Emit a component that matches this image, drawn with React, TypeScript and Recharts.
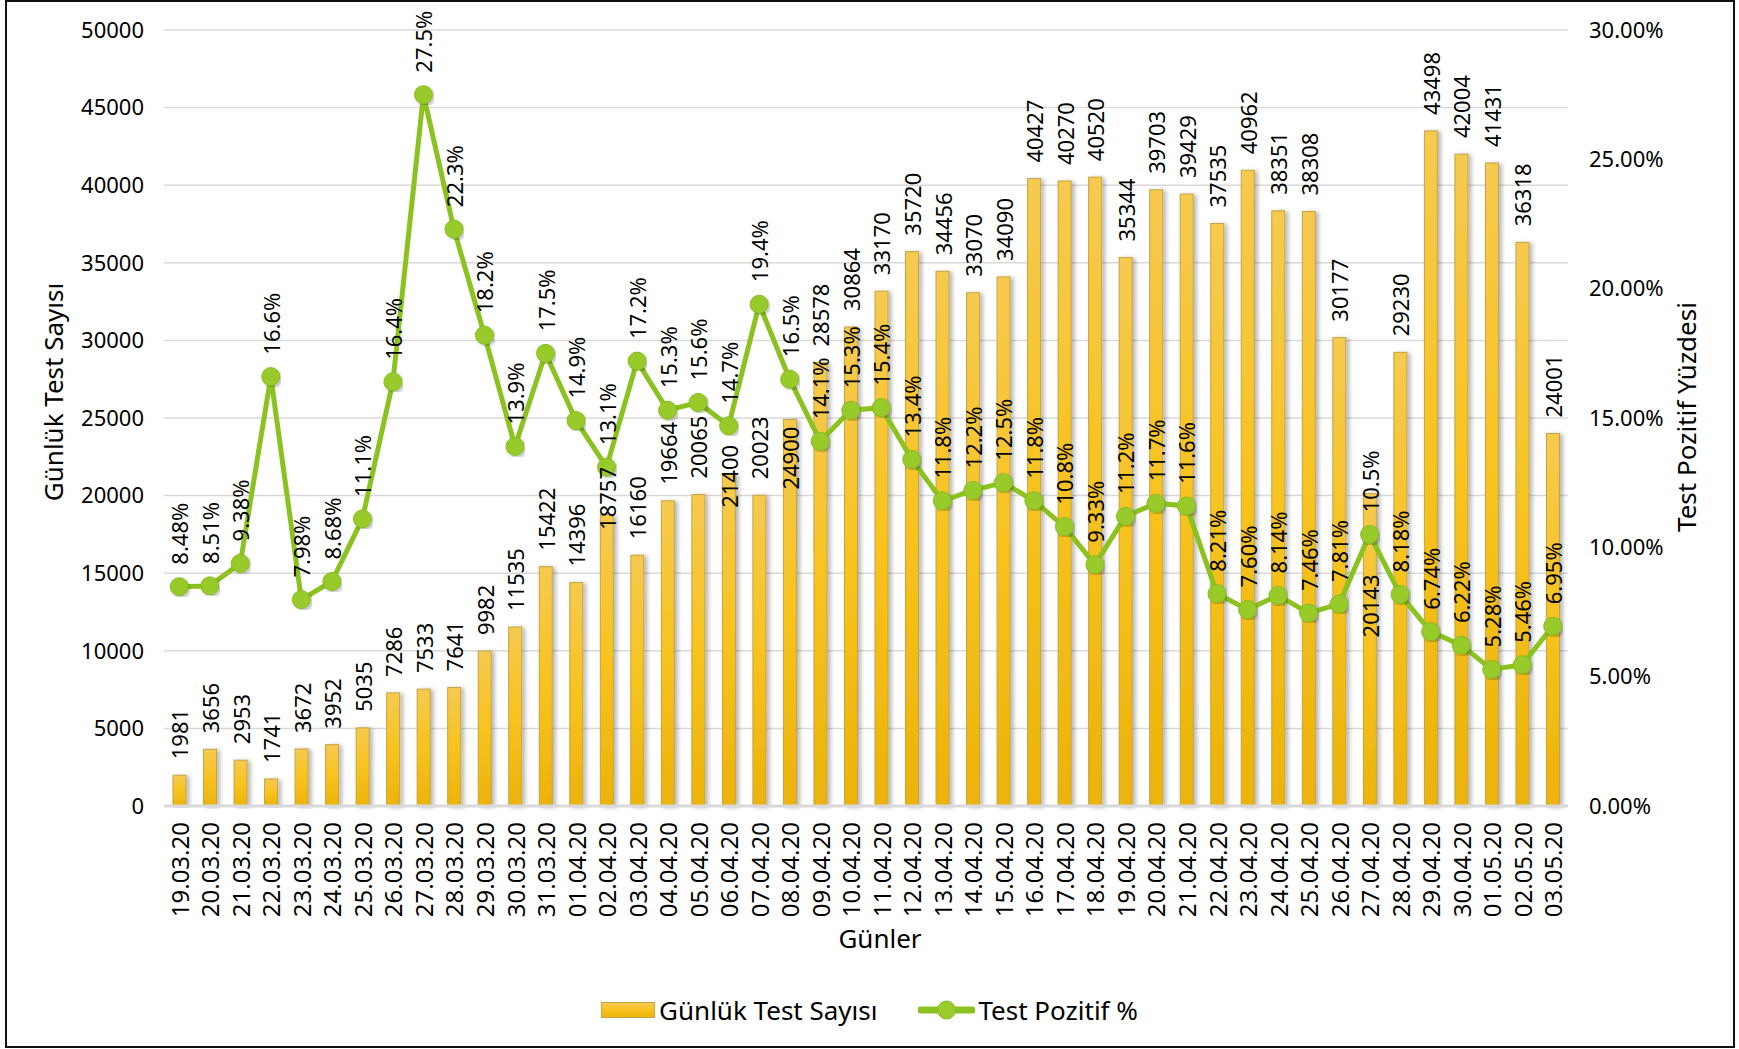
import React from "react";
import {
  Bar,
  CartesianGrid,
  ComposedChart,
  Label,
  LabelList,
  Line,
  XAxis,
  YAxis,
} from "recharts";

const days = [
  "19.03.20", "20.03.20", "21.03.20", "22.03.20", "23.03.20", "24.03.20",
  "25.03.20", "26.03.20", "27.03.20", "28.03.20", "29.03.20", "30.03.20",
  "31.03.20", "01.04.20", "02.04.20", "03.04.20", "04.04.20", "05.04.20",
  "06.04.20", "07.04.20", "08.04.20", "09.04.20", "10.04.20", "11.04.20",
  "12.04.20", "13.04.20", "14.04.20", "15.04.20", "16.04.20", "17.04.20",
  "18.04.20", "19.04.20", "20.04.20", "21.04.20", "22.04.20", "23.04.20",
  "24.04.20", "25.04.20", "26.04.20", "27.04.20", "28.04.20", "29.04.20",
  "30.04.20", "01.05.20", "02.05.20", "03.05.20",
];

const testCounts = [
  1981, 3656, 2953, 1741, 3672, 3952, 5035, 7286, 7533, 7641, 9982, 11535,
  15422, 14396, 18757, 16160, 19664, 20065, 21400, 20023, 24900, 28578, 30864,
  33170, 35720, 34456, 33070, 34090, 40427, 40270, 40520, 35344, 39703, 39429,
  37535, 40962, 38351, 38308, 30177, 20143, 29230, 43498, 42004, 41431, 36318,
  24001,
];

const positiveRates = [
  8.48, 8.51, 9.38, 16.6, 7.98, 8.68, 11.1, 16.4, 27.5, 22.3, 18.2, 13.9, 17.5,
  14.9, 13.1, 17.2, 15.3, 15.6, 14.7, 19.4, 16.5, 14.1, 15.3, 15.4, 13.4, 11.8,
  12.2, 12.5, 11.8, 10.8, 9.33, 11.2, 11.7, 11.6, 8.21, 7.6, 8.14, 7.46, 7.81,
  10.5, 8.18, 6.74, 6.22, 5.28, 5.46, 6.95,
];

const countTicks = [0, 5000, 10000, 15000, 20000, 25000, 30000, 35000, 40000, 45000, 50000];
const rateTicks = [0, 5, 10, 15, 20, 25, 30];

const data = days.map((day, i) => ({
  day,
  tests: testCounts[i],
  rate: positiveRates[i],
}));

// a few bar labels were dragged down in the original to avoid the line labels
const barLabelShift: Record<string, number> = {
  "02.04.20": 31,
  "06.04.20": 50,
  "08.04.20": 86,
  "27.04.20": 160,
};

const FONT = "'Noto Sans', sans-serif";

const DayTick = (props: any) => {
  const { x, y, payload } = props;
  return (
    <text
      x={x}
      y={y}
      transform={`rotate(-90, ${x}, ${y})`}
      textAnchor="end"
      dominantBaseline="central"
      fontSize={24}
      fontFamily={FONT}
      fill="#000"
    >
      {payload.value}
    </text>
  );
};

const BarShape = (props: any) => {
  const { x, y, width, height } = props;
  return (
    <rect
      x={x}
      y={y}
      width={width}
      height={height}
      fill="url(#barFill)"
      stroke="#C4A443"
      strokeWidth={1}
      filter="url(#barShadow)"
    />
  );
};

const BarValueLabel = (props: any) => {
  const { x, y, width, value, index } = props;
  const cx = x + width / 2;
  const ty = y - 16 + (barLabelShift[days[index]] || 0);
  return (
    <text
      x={cx}
      y={ty}
      transform={`rotate(-90, ${cx}, ${ty})`}
      textAnchor="start"
      dominantBaseline="central"
      fontSize={22}
      fontFamily={FONT}
      fill="#000"
    >
      {value}
    </text>
  );
};

const RateLabel = (props: any) => {
  const { x, y, value } = props;
  const ty = y - 22;
  return (
    <text
      x={x}
      y={ty}
      transform={`rotate(-90, ${x}, ${ty})`}
      textAnchor="start"
      dominantBaseline="central"
      fontSize={22}
      fontFamily={FONT}
      fill="#000"
    >
      {Number(value).toPrecision(3)}%
    </text>
  );
};

const axisTitle = (text: string, x: number, y: number, rotate: boolean) => () =>
  (
    <text
      x={x}
      y={y}
      transform={rotate ? `rotate(-90, ${x}, ${y})` : undefined}
      textAnchor="middle"
      dominantBaseline="central"
      fontSize={26}
      fontFamily={FONT}
      fill="#000"
    >
      {text}
    </text>
  );

export default function App() {
  return (
    <div style={{ position: "relative", width: 1739, height: 1049, background: "#fff" }}>
      <style>{`body{margin:0;}`}</style>
      <div
        style={{
          position: "absolute",
          left: 5,
          top: 0,
          width: 1726,
          height: 1044,
          border: "2px solid #111",
          pointerEvents: "none",
        }}
      />
      <ComposedChart
        width={1739}
        height={1049}
        data={data}
        margin={{ top: 30, right: 0, bottom: 93, left: 0 }}
        barSize={13}
      >
        <defs>
          <linearGradient id="barFill" x1="0" y1="0" x2="0" y2="1">
            <stop offset="0%" stopColor="#F6CA50" />
            <stop offset="50%" stopColor="#F7C31E" />
            <stop offset="100%" stopColor="#ECB30A" />
          </linearGradient>
          <filter id="barShadow" x="-50%" y="-5%" width="200%" height="110%">
            <feDropShadow dx="3" dy="1" stdDeviation="2" floodColor="#000" floodOpacity="0.28" />
          </filter>
          <filter id="lineShadow" x="-5%" y="-5%" width="110%" height="110%">
            <feDropShadow dx="2" dy="2" stdDeviation="1.5" floodColor="#000" floodOpacity="0.25" />
          </filter>
        </defs>
        <CartesianGrid yAxisId="left" vertical={false} stroke="#D9D9D9" strokeWidth={1.5} />
        <XAxis
          dataKey="day"
          height={150}
          interval={0}
          tick={<DayTick />}
          tickLine={false}
          tickSize={0}
          tickMargin={16}
          axisLine={{ stroke: "#D9D9D9", strokeWidth: 3 }}
        >
          <Label content={axisTitle("Günler", 880, 938, false)} />
        </XAxis>
        <YAxis
          yAxisId="left"
          width={164}
          domain={[0, 50000]}
          ticks={countTicks}
          interval={0}
          axisLine={false}
          tickLine={false}
          tickSize={0}
          tickMargin={20}
          tick={{ fontSize: 22, fontFamily: FONT, fill: "#000" }}
        >
          <Label content={axisTitle("Günlük Test Sayısı", 53, 392, true)} />
        </YAxis>
        <YAxis
          yAxisId="right"
          orientation="right"
          width={171}
          domain={[0, 30]}
          ticks={rateTicks}
          interval={0}
          axisLine={false}
          tickLine={false}
          tickSize={0}
          tickMargin={21}
          tickFormatter={(v: number) => `${v.toFixed(2)}%`}
          tick={{ fontSize: 22, fontFamily: FONT, fill: "#000" }}
        >
          <Label content={axisTitle("Test Pozitif Yüzdesi", 1686, 417, true)} />
        </YAxis>
        <Bar
          yAxisId="left"
          dataKey="tests"
          name="Günlük Test Sayısı"
          shape={<BarShape />}
          isAnimationActive={false}
        >
          <LabelList dataKey="tests" content={<BarValueLabel />} />
        </Bar>
        <Line
          yAxisId="right"
          dataKey="rate"
          name="Test Pozitif %"
          type="linear"
          stroke="#8CC21F"
          strokeWidth={5}
          dot={{ r: 9, fill: "#98CB2C", stroke: "#86BC22", strokeWidth: 1, filter: "url(#lineShadow)" }}
          isAnimationActive={false}
        >
          <LabelList dataKey="rate" content={<RateLabel />} />
        </Line>
      </ComposedChart>
      <div
        style={{
          position: "absolute",
          top: 992,
          left: 0,
          width: 1739,
          height: 36,
          display: "flex",
          justifyContent: "center",
          alignItems: "center",
          fontFamily: FONT,
          fontSize: 26,
          color: "#000",
        }}
      >
        <div style={{ display: "flex", alignItems: "center", marginRight: 41 }}>
          <div
            style={{
              width: 54,
              height: 16,
              background: "linear-gradient(#F6CA50, #F7C31E 50%, #ECB30A)",
              border: "1px solid #C4A443",
              boxSizing: "border-box",
              marginRight: 4,
            }}
          />
          <span>Günlük Test Sayısı</span>
        </div>
        <div style={{ display: "flex", alignItems: "center" }}>
          <svg width={57} height={24} style={{ marginRight: 3 }}>
            <line x1={3} y1={12} x2={54} y2={12} stroke="#8CC21F" strokeWidth={7} strokeLinecap="round" />
            <circle cx={28.5} cy={12} r={9} fill="#98CB2C" stroke="#86BC22" strokeWidth={1} />
          </svg>
          <span>Test Pozitif %</span>
        </div>
      </div>
    </div>
  );
}
